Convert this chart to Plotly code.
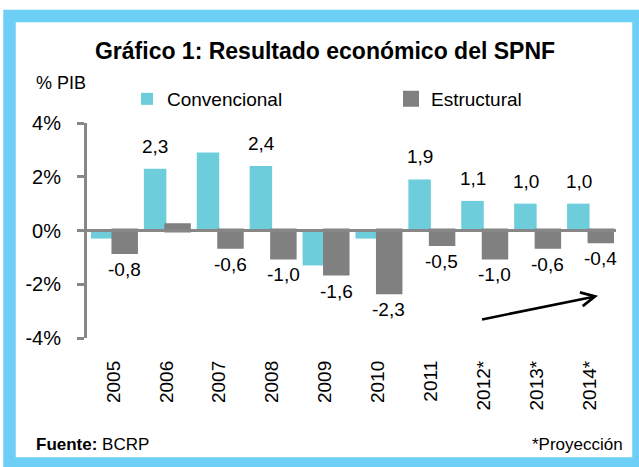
import plotly.graph_objects as go

years = ["2005", "2006", "2007", "2008", "2009", "2010", "2011", "2012*", "2013*", "2014*"]
convencional = [-0.3, 2.3, 2.9, 2.4, -1.3, -0.3, 1.9, 1.1, 1.0, 1.0]
estructural = [-0.8, 0.2, -0.6, -1.0, -1.6, -2.3, -0.5, -1.0, -0.6, -0.4]
conv_labeled = [False, True, False, True, False, False, True, True, True, True]
est_labeled = [True, False, True, True, True, True, True, True, True, True]
ytick_vals = [-4, -2, 0, 2, 4]
ytick_text = ["-4%", "-2%", "0%", "2%", "4%"]

W, H = 639, 467
ML, MR, MT, MB = 87, 23, 123, 129
PW, PH = W - ML - MR, H - MT - MB

def px_x(px):
    return (px - ML) / PW

def px_y(py):
    return (H - MB - py) / PH

FONT = "Liberation Sans, Arial, sans-serif"
CONV_COLOR = "#6dcddb"
EST_COLOR = "#808080"
AXIS_COLOR = "#878787"
FRAME_COLOR = "#6dcff6"

fig = go.Figure()
fig.add_trace(go.Bar(x=years, y=convencional, name="Convencional",
                     marker=dict(color=CONV_COLOR, line=dict(width=0))))
fig.add_trace(go.Bar(x=years, y=estructural, name="Estructural",
                     marker=dict(color=EST_COLOR, line=dict(color=EST_COLOR, width=4))))

def fmt(v):
    return f"{v:.1f}".replace(".", ",")

annotations = []
for i, (v, show) in enumerate(zip(convencional, conv_labeled)):
    if show:
        annotations.append(dict(x=i, y=v, xref="x", yref="y", text=fmt(v), showarrow=False,
                                xshift=-11, yanchor="bottom", yshift=10, font=dict(size=19)))
for i, (v, show) in enumerate(zip(estructural, est_labeled)):
    if show:
        annotations.append(dict(x=i, y=v, xref="x", yref="y", text=fmt(v), showarrow=False,
                                xshift=11, yanchor="top", yshift=-5, font=dict(size=19)))

# % PIB label
annotations.append(dict(xref="paper", yref="paper", x=px_x(34), y=px_y(83), xanchor="left",
                        yanchor="middle", text="% PIB", showarrow=False, font=dict(size=18)))
# footer
annotations.append(dict(xref="paper", yref="paper", x=px_x(34), y=px_y(444), xanchor="left",
                        yanchor="middle", text="<b>Fuente:</b> BCRP", showarrow=False, font=dict(size=17)))
annotations.append(dict(xref="paper", yref="paper", x=px_x(625), y=px_y(444), xanchor="right",
                        yanchor="middle", text="*Proyección", showarrow=False, font=dict(size=17)))
# trend arrow
annotations.append(dict(x=9.16, y=-2.43, ax=6.94, ay=-3.32, axref="x", ayref="y", xref="x", yref="y",
                        text="", showarrow=True, arrowhead=5, arrowsize=1.1, arrowwidth=2.5,
                        arrowcolor="black"))

shapes = [
    # blue frame
    dict(type="rect", xref="paper", yref="paper", x0=px_x(9.5), x1=px_x(638.5),
         y0=px_y(463.5), y1=px_y(16), line=dict(color=FRAME_COLOR, width=12.5),
         fillcolor="rgba(0,0,0,0)", layer="below"),
    # zero axis line
    dict(type="line", xref="paper", yref="y", x0=0, x1=1, y0=0, y1=0,
         line=dict(color=AXIS_COLOR, width=3), layer="above"),
]

fig.update_layout(
    width=W, height=H,
    margin=dict(l=ML, r=MR, t=MT, b=MB, autoexpand=False),
    paper_bgcolor="white", plot_bgcolor="white",
    font=dict(family=FONT, color="black", size=20),
    title=dict(text="<b>Gráfico 1: Resultado económico del SPNF</b>", x=325 / W, xanchor="center",
               xref="container", yref="container", y=1 - 51 / H, yanchor="middle",
               font=dict(size=23, color="black")),
    barmode="group", bargap=0.15, bargroupgap=0.0,
    showlegend=True,
    legend=dict(orientation="h", x=px_x(127), y=px_y(99), xanchor="left", yanchor="middle",
                font=dict(size=19), entrywidth=219, entrywidthmode="pixels",
                bgcolor="rgba(0,0,0,0)", traceorder="normal"),
    xaxis=dict(type="category", range=[-0.5, 9.5], showline=False, ticks="", tickangle=-90,
               showgrid=False, tickfont=dict(size=19), ticklabelstandoff=18, zeroline=False),
    yaxis=dict(range=[-4, 4], tickvals=ytick_vals, ticktext=ytick_text, showline=True,
               linecolor=AXIS_COLOR, linewidth=3, ticks="outside", ticklen=7, tickwidth=3,
               tickcolor=AXIS_COLOR, showgrid=False, zeroline=False, tickfont=dict(size=20),
               ticklabelstandoff=12),
    annotations=annotations,
    shapes=shapes,
)

fig.write_html("out.html", config={"displayModeBar": False},
               post_script="document.body.style.margin='0';")
